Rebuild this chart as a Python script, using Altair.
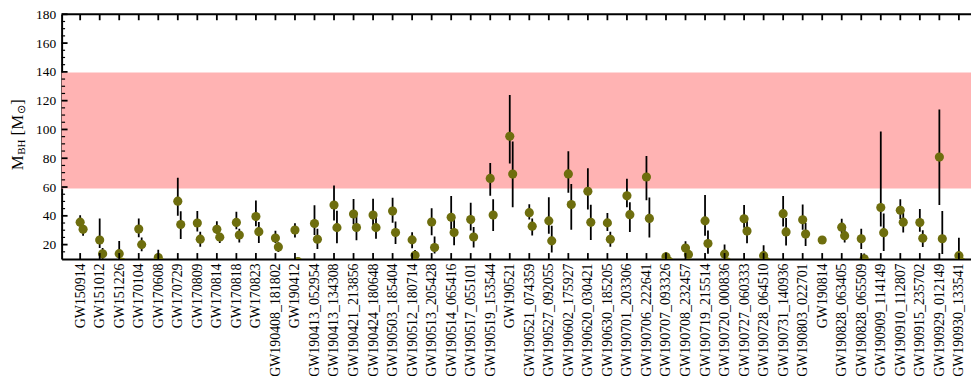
import altair as alt
import pandas as pd

events = [
    "GW150914", "GW151012", "GW151226", "GW170104", "GW170608", "GW170729",
    "GW170809", "GW170814", "GW170818", "GW170823", "GW190408_181802",
    "GW190412", "GW190413_052954", "GW190413_134308", "GW190421_213856",
    "GW190424_180648", "GW190503_185404", "GW190512_180714", "GW190513_205428",
    "GW190514_065416", "GW190517_055101", "GW190519_153544", "GW190521",
    "GW190521_074359", "GW190527_092055", "GW190602_175927", "GW190620_030421",
    "GW190630_185205", "GW190701_203306", "GW190706_222641", "GW190707_093326",
    "GW190708_232457", "GW190719_215514", "GW190720_000836", "GW190727_060333",
    "GW190728_064510", "GW190731_140936", "GW190803_022701", "GW190814",
    "GW190828_063405", "GW190828_065509", "GW190909_114149", "GW190910_112807",
    "GW190915_235702", "GW190929_012149", "GW190930_133541",
]
m1 = [35.6, 23.2, 13.7, 30.8, 11.0, 50.2, 35.0, 30.6, 35.4, 39.5, 24.6, 30.1,
      34.7, 47.5, 41.3, 40.5, 43.3, 23.3, 35.7, 39.0, 37.4, 66.0, 95.3, 42.2,
      36.5, 69.1, 57.1, 35.1, 53.9, 67.0, 11.6, 17.6, 36.5, 13.4, 38.0, 12.3,
      41.5, 37.3, 23.2, 32.1, 24.1, 45.8, 43.9, 35.3, 80.8, 12.3]
m1_up = [4.8, 14.9, 8.8, 7.3, 5.5, 16.2, 8.3, 5.6, 7.5, 11.2, 5.1, 4.7,
         12.6, 13.5, 10.4, 11.3, 9.2, 5.3, 9.5, 14.7, 11.7, 10.7, 28.7, 5.9,
         16.4, 15.7, 16.0, 6.9, 11.8, 14.6, 3.3, 4.7, 18.0, 6.7, 9.5, 7.2,
         12.2, 10.6, 1.1, 5.8, 7.0, 52.7, 7.6, 9.5, 33.0, 12.5]
m1_lo = [3.0, 5.5, 3.2, 5.6, 1.7, 10.2, 5.9, 3.0, 4.7, 6.7, 3.4, 5.1,
         8.1, 10.7, 6.9, 7.3, 8.1, 5.8, 9.2, 8.2, 7.6, 12.0, 18.9, 4.8,
         9.0, 13.0, 12.7, 5.6, 8.0, 16.2, 1.7, 2.3, 10.3, 3.0, 6.2, 2.2,
         9.0, 7.0, 1.0, 4.0, 7.2, 13.3, 6.1, 6.4, 33.2, 2.3]
m2 = [30.6, 13.6, 7.7, 20.0, 7.6, 34.0, 23.8, 25.2, 26.7, 29.0, 18.4, 8.3,
      23.7, 31.8, 31.9, 31.8, 28.4, 12.6, 18.0, 28.4, 25.3, 40.5, 69.0, 32.8,
      22.6, 47.8, 35.5, 23.7, 40.8, 38.2, 8.4, 13.2, 20.8, 7.8, 29.4, 8.1,
      28.8, 27.3, 2.59, 26.2, 10.2, 28.3, 35.6, 24.4, 24.1, 7.8]
m2_up = [3.0, 4.1, 2.2, 4.9, 1.4, 9.1, 5.1, 2.8, 4.3, 6.7, 3.3, 1.6,
         7.3, 11.7, 8.0, 7.6, 7.7, 3.6, 7.7, 9.3, 7.0, 11.0, 22.7, 5.4,
         10.5, 14.3, 12.2, 5.2, 8.7, 14.6, 1.4, 2.0, 9.0, 2.3, 7.1, 1.7,
         9.7, 7.8, 0.08, 4.6, 3.6, 13.4, 6.3, 5.6, 19.3, 1.7]
m2_lo = [4.4, 4.8, 2.6, 4.6, 2.2, 10.1, 5.2, 4.0, 5.2, 7.8, 3.6, 0.9,
         6.7, 10.8, 8.8, 7.7, 8.0, 2.5, 4.1, 8.8, 7.3, 11.1, 23.1, 6.4,
         8.1, 17.4, 12.3, 5.1, 12.0, 13.3, 1.7, 2.7, 7.2, 2.2, 8.4, 2.6,
         9.5, 8.2, 0.09, 4.8, 2.1, 12.7, 7.2, 6.1, 10.6, 3.3]

band_lo, band_hi = 59, 139.5
y_major = list(range(20, 181, 20))
y_minor = [v for v in range(15, 180, 5) if v % 20 != 0]

TOP = 5
W, H = 916, 246.5
OFF = 0.15
FONT = "Liberation Serif"

rows = []
for i, e in enumerate(events):
    rows.append(dict(idx=i, event=e, comp="primary", xp=i,
                     m=m1[i], lo=m1[i] - m1_lo[i], hi=m1[i] + m1_up[i]))
    rows.append(dict(idx=i, event=e, comp="secondary", xp=i + OFF,
                     m=m2[i], lo=m2[i] - m2_lo[i], hi=m2[i] + m2_up[i]))
df = pd.DataFrame(rows)

xscale = alt.Scale(domain=[-0.95, 45.62], nice=False, zero=False)
yscale = alt.Scale(domain=[10, 180], nice=False, zero=False)

label_expr = "[" + ",".join("'" + e + "'" for e in events) + "][datum.value]"
xaxis = alt.Axis(values=list(range(len(events))), labelExpr=label_expr,
                 labelAngle=270, labelPadding=4, ticks=False, grid=False,
                 labelOverlap=False, labelFlush=False, labelFont=FONT,
                 labelFontSize=14, labelColor="black", domainColor="black",
                 domainWidth=2, title=None)
yaxis = alt.Axis(values=y_major, ticks=False, grid=False, labelPadding=6,
                 labelFont=FONT, labelFontSize=13.5, labelColor="black",
                 domainColor="black", domainWidth=2, title=None)


def X(field):
    return alt.X(field, type="quantitative", scale=xscale, axis=xaxis)


def Y(field):
    return alt.Y(field, type="quantitative", scale=yscale, axis=yaxis)


band = alt.Chart(pd.DataFrame({"lo": [band_lo], "hi": [band_hi]})).mark_rect(
    color="#ffb3b3", opacity=1
).encode(
    x=alt.value(0), x2=alt.value(W),
    y=Y("lo"), y2="hi:Q",
)

errs = alt.Chart(df).mark_rule(color="black", strokeWidth=1.8, clip=True).encode(
    x=X("xp"), y=Y("lo"), y2="hi:Q",
)

pts = alt.Chart(df).mark_circle(size=85, color="#6e6e0e", opacity=1, clip=True).encode(
    x=X("xp"), y=Y("m"),
    tooltip=["event:N", "comp:N", "m:Q"],
)

tick_df = pd.DataFrame({"t": list(range(len(events)))})
bottom_ticks = alt.Chart(tick_df).mark_rule(color="black", strokeWidth=1.8).encode(
    x=X("t"), y=alt.value(H), y2=alt.value(H - 6)
)
top_ticks = alt.Chart(tick_df).mark_rule(color="black", strokeWidth=1.8).encode(
    x=X("t"), y=alt.value(0), y2=alt.value(6)
)
major_ticks = alt.Chart(pd.DataFrame({"v": y_major})).mark_rule(
    color="black", strokeWidth=1.8).encode(
    y=Y("v"), x=alt.value(0), x2=alt.value(6)
)
minor_ticks = alt.Chart(pd.DataFrame({"v": y_minor})).mark_rule(
    color="black", strokeWidth=1.2).encode(
    y=Y("v"), x=alt.value(0), x2=alt.value(3.5)
)
top_spine = alt.Chart(pd.DataFrame({"a": [0]})).mark_rule(
    color="black", strokeWidth=2).encode(
    x=alt.value(0), x2=alt.value(W), y=alt.value(0)
)

one = pd.DataFrame({"a": [0]})


def piece(txt, size, px, py):
    return alt.Chart(one).mark_text(
        text=txt, angle=270, align="left", baseline="alphabetic",
        font=FONT, fontSize=size, color="black"
    ).encode(x=alt.value(px), y=alt.value(py - TOP))


title_layers = [
    piece("M", 17, -39, 162),
    piece("BH", 11, -37, 146.5),
    piece("[M", 17, -39, 127),
    piece("⊙", 11, -37, 105.7),
    piece("]", 17, -39, 96),
]

chart = alt.layer(
    band, errs, pts, bottom_ticks, top_ticks, major_ticks, minor_ticks,
    top_spine, *title_layers
).properties(
    width=W, height=H,
    padding={"left": 54, "top": TOP, "right": 0, "bottom": 116},
    autosize=alt.AutoSizeParams(type="none"),
).configure_view(stroke=None)

chart.save("out.html", embed_options={"renderer": "svg", "actions": False})
